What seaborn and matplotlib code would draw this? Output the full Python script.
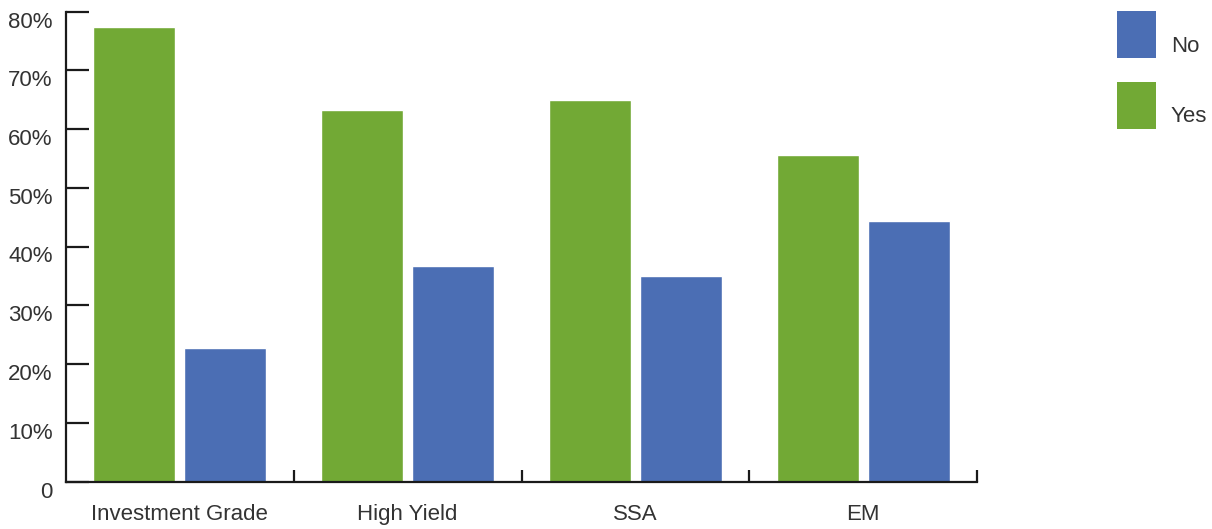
import matplotlib
matplotlib.use("Agg")
import matplotlib.pyplot as plt
import matplotlib.transforms as mtransforms
from matplotlib.patches import Rectangle
import seaborn as sns
import pandas as pd

categories = ["Investment Grade", "High Yield", "SSA", "EM"]
yes_values = [77.3, 63.3, 65.0, 55.6]
no_values = [22.7, 36.7, 35.0, 44.4]
series_names = ["Yes", "No"]
y_ticks = [0, 10, 20, 30, 40, 50, 60, 70, 80]
y_tick_labels = ["0", "10%", "20%", "30%", "40%", "50%", "60%", "70%", "80%"]

GREEN = "#72A935"
BLUE = "#4B6EB4"
TEXT = "#333333"
AXIS = "#1a1a1a"
FS = 16

sns.set_style("white")
plt.rcParams["font.family"] = ["Liberation Sans", "DejaVu Sans"]

df = pd.DataFrame({
    "category": categories * 2,
    "series": ["Yes"] * len(categories) + ["No"] * len(categories),
    "value": yes_values + no_values,
})

W, H = 1212, 529
fig = plt.figure(figsize=(W / 100, H / 100), dpi=100)
ax = fig.add_axes([66 / W, (H - 481.5) / H, (977 - 66) / W, (481.5 - 11.5) / H])

sns.barplot(data=df, x="category", y="value", hue="series", order=categories,
            hue_order=series_names, palette={"Yes": GREEN, "No": BLUE},
            width=0.8, gap=0.1, saturation=1, legend=False, ax=ax, errorbar=None)

ax.set_xlim(-0.5, len(categories) - 0.5)
ax.set_ylim(0, 80)
ax.set_xlabel("")
ax.set_ylabel("")

for side in ["top", "right"]:
    ax.spines[side].set_visible(False)
for side in ["left", "bottom"]:
    ax.spines[side].set_color(AXIS)
    ax.spines[side].set_linewidth(1.6)

ax.set_yticks(y_ticks)
ax.set_yticklabels(y_tick_labels)
ax.tick_params(axis="y", left=True, direction="in", length=16.5, width=1.6, color=AXIS,
               labelsize=FS, labelcolor=TEXT, pad=9.5)
ax.set_xticks(range(len(categories)))
ax.set_xticklabels(categories)
ax.tick_params(axis="x", which="major", bottom=True, length=0, labelsize=FS,
               labelcolor=TEXT, pad=16)
ax.set_xticks([i + 0.5 for i in range(len(categories))], minor=True)
ax.tick_params(axis="x", which="minor", bottom=True, direction="in", length=8.5,
               width=1.6, color=AXIS)

offset = mtransforms.ScaledTranslation(0, -8 / 100, fig.dpi_scale_trans)
for t in ax.yaxis.get_major_ticks():
    t.label1.set_transform(t.label1.get_transform() + offset)

# legend
leg_items = [("No", BLUE, 11, 46), ("Yes", GREEN, 82, 117)]
for name, col, top, ty in leg_items:
    fig.patches.append(Rectangle((1117 / W, (H - top - 47) / H), 39 / W, 47 / H,
                                 transform=fig.transFigure, facecolor=col,
                                 edgecolor="none"))
    fig.text(1171 / W, (H - ty) / H, name, fontsize=FS, color=TEXT,
             ha="left", va="center")

fig.savefig("out.png", dpi=100, facecolor="white")
